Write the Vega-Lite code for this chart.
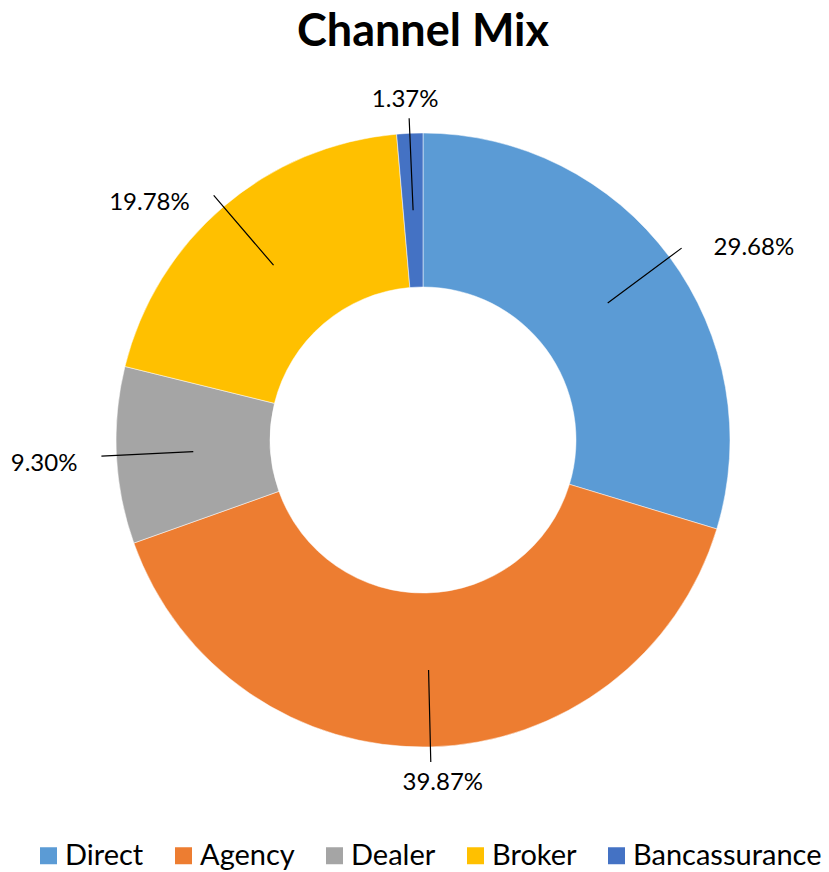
{
  "$schema": "https://vega.github.io/schema/vega-lite/v6.json",
  "width": 812,
  "height": 760,
  "autosize": "none",
  "padding": {"left": 17, "top": 60, "right": 0, "bottom": 52},
  "background": "white",
  "title": {"text": "Channel Mix", "font": "Lato", "fontSize": 45, "fontWeight": "bold", "color": "#000000", "anchor": "middle", "offset": 5},
  "data": {"values": [
    {"channel": "Direct", "share": 0.2968, "order": 1},
    {"channel": "Agency", "share": 0.3987, "order": 2},
    {"channel": "Dealer", "share": 0.0930, "order": 3},
    {"channel": "Broker", "share": 0.1978, "order": 4},
    {"channel": "Bancassurance", "share": 0.0137, "order": 5}
  ]},
  "layer": [
    {
      "mark": {"type": "arc", "innerRadius": 153, "outerRadius": 307, "stroke": "white", "strokeWidth": 0.5},
      "encoding": {
        "theta": {"field": "share", "type": "quantitative", "stack": true},
        "order": {"field": "order", "type": "quantitative"},
        "color": {
          "field": "channel", "type": "nominal",
          "scale": {"domain": ["Direct", "Agency", "Dealer", "Broker", "Bancassurance"], "range": ["#5B9BD5", "#ED7D31", "#A5A5A5", "#FFC000", "#4472C4"]},
          "legend": {"orient": "none", "legendX": 17, "legendY": 781, "direction": "horizontal", "title": null, "symbolType": "square", "symbolSize": 289, "symbolStrokeWidth": 0, "symbolOpacity": 1, "labelFont": "Lato", "labelFontSize": 29, "labelColor": "#000000", "labelOffset": 2, "columnPadding": 25, "labelLimit": 300}
        }
      }
    },
    {
      "transform": [
        {"stack": "share", "groupby": [], "sort": [{"field": "order", "order": "ascending"}], "as": ["s0", "s1"]},
        {"fold": ["s0", "s1"], "as": ["edge", "pos"]},
        {"aggregate": [{"op": "mean", "field": "pos", "as": "mid"}], "groupby": ["channel"]}
      ],
      "mark": {"type": "arc", "innerRadius": 230, "outerRadius": 322, "stroke": "#000000", "strokeWidth": 1.2, "fillOpacity": 0},
      "encoding": {
        "theta": {"field": "mid", "type": "quantitative"},
        "theta2": {"field": "mid"}
      }
    },
    {
      "transform": [
        {"stack": "share", "groupby": [], "sort": [{"field": "order", "order": "ascending"}], "as": ["s0", "s1"]},
        {"fold": ["s0", "s1"], "as": ["edge", "pos"]},
        {"aggregate": [{"op": "mean", "field": "pos", "as": "mid"}], "groupby": ["channel", "share"]},
        {"filter": {"field": "mid", "range": [0.05, 0.45]}}
      ],
      "mark": {"type": "text", "radius": 322, "dx": 32, "font": "Lato", "fontSize": 24, "color": "#000000", "align": "left", "baseline": "middle"},
      "encoding": {
        "theta": {"field": "mid", "type": "quantitative"},
        "text": {"field": "share", "type": "quantitative", "format": ".2%"}
      }
    },
    {
      "transform": [
        {"stack": "share", "groupby": [], "sort": [{"field": "order", "order": "ascending"}], "as": ["s0", "s1"]},
        {"fold": ["s0", "s1"], "as": ["edge", "pos"]},
        {"aggregate": [{"op": "mean", "field": "pos", "as": "mid"}], "groupby": ["channel", "share"]},
        {"filter": {"field": "mid", "range": [0.45, 0.55]}}
      ],
      "mark": {"type": "text", "radius": 322, "dx": 12, "dy": 21, "font": "Lato", "fontSize": 24, "color": "#000000", "align": "center", "baseline": "middle"},
      "encoding": {
        "theta": {"field": "mid", "type": "quantitative"},
        "text": {"field": "share", "type": "quantitative", "format": ".2%"}
      }
    },
    {
      "transform": [
        {"stack": "share", "groupby": [], "sort": [{"field": "order", "order": "ascending"}], "as": ["s0", "s1"]},
        {"fold": ["s0", "s1"], "as": ["edge", "pos"]},
        {"aggregate": [{"op": "mean", "field": "pos", "as": "mid"}], "groupby": ["channel", "share"]},
        {"filter": {"field": "mid", "range": [0.55, 0.95]}}
      ],
      "mark": {"type": "text", "radius": 322, "dx": -24, "dy": 8, "font": "Lato", "fontSize": 24, "color": "#000000", "align": "right", "baseline": "middle"},
      "encoding": {
        "theta": {"field": "mid", "type": "quantitative"},
        "text": {"field": "share", "type": "quantitative", "format": ".2%"}
      }
    },
    {
      "transform": [
        {"stack": "share", "groupby": [], "sort": [{"field": "order", "order": "ascending"}], "as": ["s0", "s1"]},
        {"fold": ["s0", "s1"], "as": ["edge", "pos"]},
        {"aggregate": [{"op": "mean", "field": "pos", "as": "mid"}], "groupby": ["channel", "share"]},
        {"filter": {"or": [{"field": "mid", "gt": 0.95}, {"field": "mid", "lt": 0.05}]}}
      ],
      "mark": {"type": "text", "radius": 322, "dx": -4, "dy": -18, "font": "Lato", "fontSize": 24, "color": "#000000", "align": "center", "baseline": "middle"},
      "encoding": {
        "theta": {"field": "mid", "type": "quantitative"},
        "text": {"field": "share", "type": "quantitative", "format": ".2%"}
      }
    }
  ]
}
